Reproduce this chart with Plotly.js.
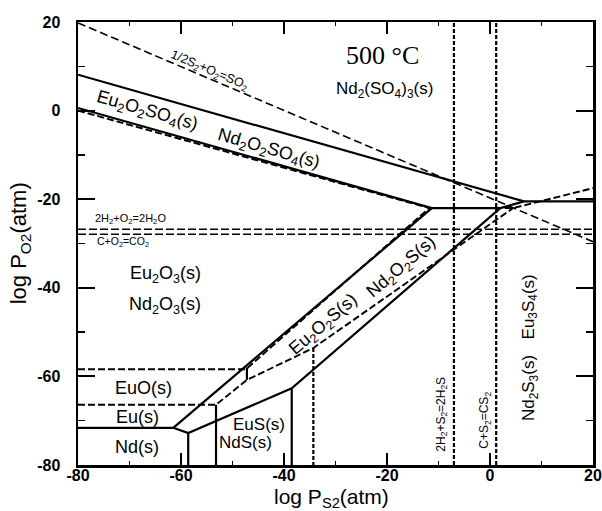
<!DOCTYPE html>
<html>
<head>
<meta charset="utf-8">
<script src="https://cdn.plot.ly/plotly-3.0.1.min.js"></script>
<style>html,body{margin:0;padding:0;background:#fff;}</style>
</head>
<body>
<div id="chart" style="width:602px;height:511px;"></div>
<script>
// ---- axis ticks ----
const xTickVals = [-80, -60, -40, -20, 0, 20];
const xTickText = ["-80", "-60", "-40", "-20", "0", "20"];
const yTickVals = [-80, -60, -40, -20, 0, 20];
const yTickText = ["-80", "-60", "-40", "-20", "0", "20"];
const minorTickVals = [-70, -50, -30, -10, 10];

// ---- Nd-S-O system boundaries (solid) : log PS2 , log PO2 ----
const ndSulfateX = [-80, 6.6, 20];          // Nd2(SO4)3 / Nd2O2SO4 , Nd2(SO4)3 / Nd2S3
const ndSulfateY = [8.1, -20.5, -20.5];
const ndOxysulfateX = [-80, -11.3, 2.0, 6.6]; // Nd2O2SO4 / Nd2O3 , / Nd2O2S , / Nd2S3
const ndOxysulfateY = [0.6, -22.0, -22.0, -20.5];
const ndOxideX = [-80, -61.5, -11.3];        // Nd / Nd2O3 , Nd2O3 / Nd2O2S
const ndOxideY = [-71.6, -71.6, -22.0];
const ndOxysulfideX = [-61.5, -58.6, -38.5, 2.0]; // Nd/Nd2O2S , NdS/Nd2O2S , Nd2O2S/Nd2S3
const ndOxysulfideY = [-71.6, -72.8, -62.7, -22.0];
const ndNdSX = [-58.6, -58.6];               // Nd / NdS
const ndNdSY = [-72.8, -80];
const ndSulfideX = [-38.5, -38.5];           // NdS / Nd2S3
const ndSulfideY = [-62.7, -80];

// ---- Eu-S-O system boundaries (dashed) ----
const euOxysulfateX = [-80, -11.8, 4.5, 20];  // Eu2O2SO4 / Eu2O3 , / Eu2O2S , / Eu3S4
const euOxysulfateY = [0.0, -22.0, -22.0, -17.5];
const euOxideX = [-80, -47.4, -11.8];          // Eu2O3 / EuO , Eu2O3 / Eu2O2S
const euOxideY = [-58.4, -58.4, -22.0];
const euMonoxideX = [-80, -53.2, -47.2, -34.3, 4.5]; // EuO/Eu , EuO/EuS , Eu2O2S/EuS , Eu2O2S/Eu3S4
const euMonoxideY = [-66.4, -66.4, -60.8, -53.6, -22.0];
const euEuSX = [-53.2, -53.2];                // Eu / EuS
const euEuSY = [-66.4, -80];
const euEuOX = [-47.2, -47.2];                // EuO / Eu2O2S
const euEuOY = [-58.0, -60.8];
const euSulfideX = [-34.3, -34.3];            // EuS / Eu3S4
const euSulfideY = [-53.6, -80];

// ---- gas equilibria ----
const so2X = [-80, 20];  const so2Y = [19.8, -29.6];
const h2oX = [-80, 20];  const h2oY = [-26.8, -26.8];
const co2X = [-80, 20];  const co2Y = [-27.9, -27.9];
const h2sX = [-7.0, -7.0]; const h2sY = [-80, 20];
const cs2X = [1.2, 1.2];   const cs2Y = [-80, 20];

function seg(x, y, dash, width) {
  return {x: x, y: y, type: 'scatter', mode: 'lines', hoverinfo: 'skip',
          line: {color: 'black', width: width, dash: dash}};
}

const traces = [
  seg(so2X, so2Y, '8px,4px', 1.6),
  seg(h2oX, h2oY, '8px,3px', 1.4),
  seg(co2X, co2Y, '8px,3px', 1.4),
  seg(h2sX, h2sY, '4px,2px', 2.2),
  seg(cs2X, cs2Y, '4px,2px', 2.2),
  seg(euOxysulfateX, euOxysulfateY, '7px,3px', 1.9),
  seg(euOxideX, euOxideY, '7px,3px', 1.9),
  seg(euMonoxideX, euMonoxideY, '7px,3px', 1.9),
  seg(euEuSX, euEuSY, 'solid', 2.2),
  seg(euEuOX, euEuOY, 'solid', 2.2),
  seg(euSulfideX, euSulfideY, '4px,2px', 2.2),
  seg(ndSulfateX, ndSulfateY, 'solid', 2.2),
  seg(ndOxysulfateX, ndOxysulfateY, 'solid', 2.2),
  seg(ndOxideX, ndOxideY, 'solid', 2.2),
  seg(ndOxysulfideX, ndOxysulfideY, 'solid', 2.2),
  seg(ndNdSX, ndNdSY, 'solid', 2.2),
  seg(ndSulfideX, ndSulfideY, 'solid', 2.2)
];

const F = 'Liberation Sans, Arial, sans-serif';
function lab(x, y, text, size, angle, family) {
  return {x: x, y: y, xref: 'x', yref: 'y', text: text, showarrow: false,
          textangle: angle || 0, xanchor: 'center', yanchor: 'middle',
          font: {family: family || F, size: size, color: 'black'}};
}

const annotations = [
  lab(-20.8, 12.4, '500 °C', 26, 0, 'Liberation Serif, Times New Roman, serif'),
  lab(-20.4, 4.7, 'Nd<sub>2</sub>(SO<sub>4</sub>)<sub>3</sub>(s)', 17),
  lab(-54.4, 9.0, '1/2S<sub>2</sub>+O<sub>2</sub>=SO<sub>2</sub>', 12.5, 23),
  lab(-66.6, -0.2, 'Eu<sub>2</sub>O<sub>2</sub>SO<sub>4</sub>(s)', 18, 16),
  lab(-43.1, -8.85, 'Nd<sub>2</sub>O<sub>2</sub>SO<sub>4</sub>(s)', 18, 16),
  lab(-69.9, -24.4, '2H<sub>2</sub>+O<sub>2</sub>=2H<sub>2</sub>O', 11),
  lab(-71.3, -29.6, 'C+O<sub>2</sub>=CO<sub>2</sub>', 10.5),
  lab(-63.1, -37.1, 'Eu<sub>2</sub>O<sub>3</sub>(s)', 18),
  lab(-63.1, -43.9, 'Nd<sub>2</sub>O<sub>3</sub>(s)', 18),
  lab(-32.4, -48.4, 'Eu<sub>2</sub>O<sub>2</sub>S(s)', 18, -40.7),
  lab(-17.1, -35.5, 'Nd<sub>2</sub>O<sub>2</sub>S(s)', 18, -40.7),
  lab(-67.2, -62.6, 'EuO(s)', 18),
  lab(-68.5, -69.2, 'Eu(s)', 18),
  lab(-68.5, -76.0, 'Nd(s)', 18),
  lab(-44.9, -70.8, 'EuS(s)', 17),
  lab(-47.4, -75.0, 'NdS(s)', 17),
  lab(7.8, -44.4, 'Eu<sub>3</sub>S<sub>4</sub>(s)', 17, -90),
  lab(7.8, -62.6, 'Nd<sub>2</sub>S<sub>3</sub>(s)', 17, -90),
  lab(-9.4, -68.5, '2H<sub>2</sub>+S<sub>2</sub>=2H<sub>2</sub>S', 12, -90),
  lab(-1.0, -69.8, 'C+S<sub>2</sub>=CS<sub>2</sub>', 12, -90),
  {xref: 'paper', yref: 'paper', x: 0.493, y: -0.074, xanchor: 'center', yanchor: 'middle',
   showarrow: false, text: 'log P<sub>S2</sub>(atm)', font: {family: F, size: 21, color: 'black'}},
  {xref: 'paper', yref: 'paper', x: -0.113, y: 0.5, xanchor: 'center', yanchor: 'middle',
   showarrow: false, textangle: -90, text: 'log P<sub>O2</sub>(atm)', font: {family: F, size: 22, color: 'black'}}
];

const axisCommon = {
  range: [-80, 20], tickmode: 'array', ticks: 'inside', tickwidth: 2, tickcolor: 'black',
  showline: true, linewidth: 2.5, linecolor: 'black', mirror: 'ticks',
  showgrid: false, zeroline: false, fixedrange: true,
  tickfont: {family: F, size: 16, color: 'black', weight: 'bold'}
};

const layout = {
  width: 602, height: 511,
  margin: {l: 78, r: 9, t: 22, b: 46},
  paper_bgcolor: 'white', plot_bgcolor: 'white',
  showlegend: false,
  xaxis: Object.assign({}, axisCommon, {
    tickvals: xTickVals, ticktext: xTickText, ticklen: 12, ticklabelstandoff: -6,
    minor: {tickmode: 'array', tickvals: minorTickVals, ticks: 'inside', ticklen: 4, tickwidth: 1.5, tickcolor: 'black'}
  }),
  yaxis: Object.assign({}, axisCommon, {
    tickvals: yTickVals, ticktext: yTickText, ticklen: 17, ticklabelstandoff: 12,
    minor: {tickmode: 'array', tickvals: minorTickVals, ticks: 'inside', ticklen: 7, tickwidth: 1.5, tickcolor: 'black'}
  }),
  annotations: annotations
};

Plotly.newPlot('chart', traces, layout, {staticPlot: true, displayModeBar: false});
</script>
</body>
</html>
